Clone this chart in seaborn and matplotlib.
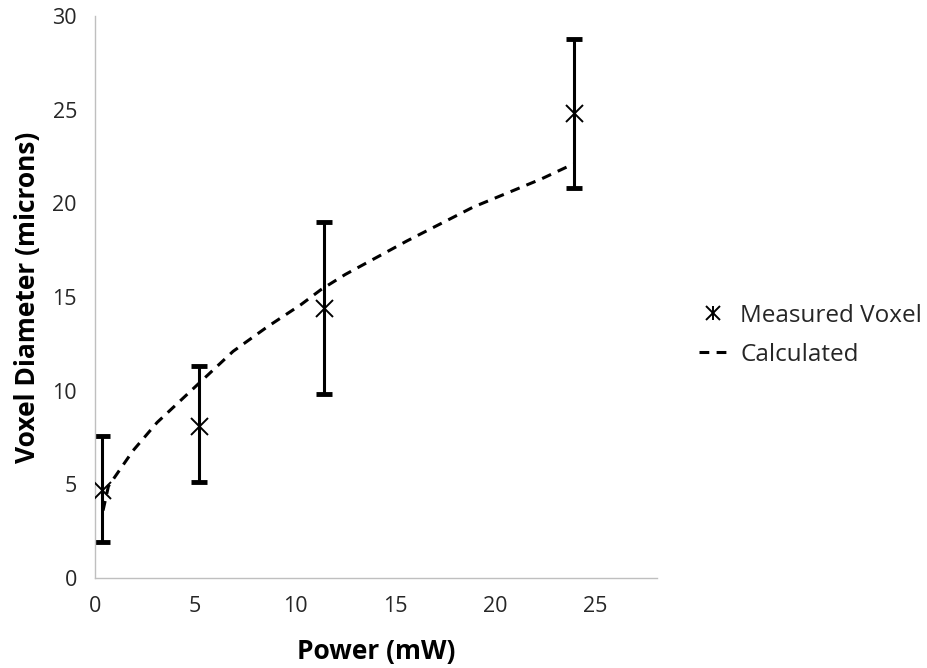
import matplotlib
matplotlib.use("Agg")
import matplotlib.pyplot as plt
import seaborn as sns
import pandas as pd
from matplotlib.lines import Line2D
from matplotlib.legend_handler import HandlerTuple

# measured voxel diameter vs power
power = [0.33, 5.22, 11.42, 23.95]
diameter = [4.7, 8.1, 14.4, 24.8]
err_low = [1.9, 5.1, 9.8, 20.8]
err_high = [7.6, 11.3, 19.0, 28.8]

# calculated curve
calc_power = [0.4, 0.67, 1.9, 3.1, 4.6, 5.6, 6.9, 8.6, 10.3, 11.3, 12.5, 15.6, 18.9, 22.3, 23.9]
calc_diam = [3.6, 4.9, 6.8, 8.3, 9.8, 10.8, 12.1, 13.4, 14.6, 15.4, 16.2, 18.0, 19.8, 21.3, 22.1]

meas = pd.DataFrame({"Power": power, "Diameter": diameter})
calc = pd.DataFrame({"Power": calc_power, "Diameter": calc_diam})

sns.set_style("white")
plt.rcParams["font.family"] = ["Open Sans", "DejaVu Sans"]

fig = plt.figure(figsize=(9.27, 6.68), dpi=100)
ax = fig.add_axes([0.1025, 0.1347, 0.6065, 0.8413])

dash = (0, (3.2, 2.4))
sns.lineplot(data=calc, x="Power", y="Diameter", ax=ax, color="black",
             linestyle=dash, linewidth=2.2, legend=False)

yerr = [[d - l for d, l in zip(diameter, err_low)],
        [h - d for d, h in zip(diameter, err_high)]]
ax.errorbar(power, diameter, yerr=yerr, fmt="none", ecolor="black",
            elinewidth=2.2, capsize=6, capthick=3.5)
sns.scatterplot(data=meas, x="Power", y="Diameter", ax=ax, marker="x",
                s=150, color="black", linewidth=1.4, zorder=5, legend=False)

ax.set_xlim(0, 28.1)
ax.set_ylim(0, 30)
ax.set_xticks([0, 5, 10, 15, 20, 25])
ax.set_yticks([0, 5, 10, 15, 20, 25, 30])

for s in ["top", "right"]:
    ax.spines[s].set_visible(False)
for s in ["left", "bottom"]:
    ax.spines[s].set_color("#bfbfbf")
    ax.spines[s].set_linewidth(1.0)
ax.tick_params(axis="both", which="major", length=6, width=1.0, color="#bfbfbf",
               labelsize=15.5, labelcolor="#262626", pad=7)

ax.set_xlabel("Power (mW)", fontsize=19, fontweight="bold", color="black", labelpad=15)
ax.set_ylabel("Voxel Diameter (microns)", fontsize=19, fontweight="bold", color="black", labelpad=8)

h_x = Line2D([], [], marker="x", color="black", linestyle="none", markersize=10, markeredgewidth=1.4)
h_v = Line2D([], [], marker="|", color="black", linestyle="none", markersize=10, markeredgewidth=1.4)
h_c = Line2D([], [], color="black", linestyle=dash, linewidth=2.2)
ax.legend([(h_x, h_v), h_c], ["Measured Voxel", "Calculated"],
          handler_map={tuple: HandlerTuple(ndivide=1, pad=0)},
          loc="center left", bbox_to_anchor=(1.035, 0.432), frameon=False,
          fontsize=17.5, handlelength=1.2, handletextpad=0.5, labelspacing=0.6)

fig.savefig("out.png", dpi=100)
